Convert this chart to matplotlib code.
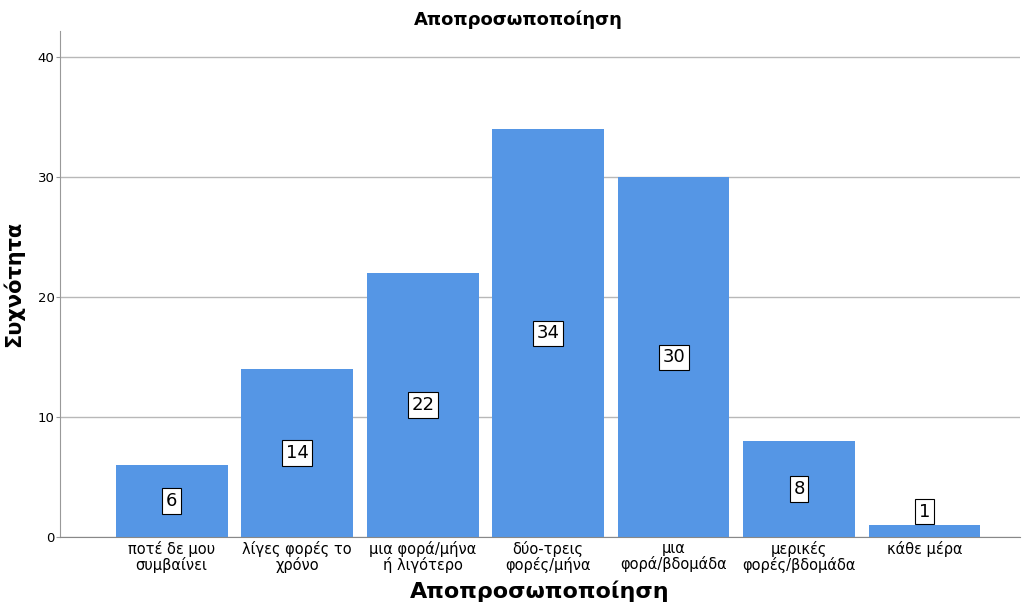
import matplotlib
matplotlib.use("Agg")
import matplotlib.pyplot as plt

categories = ["ποτέ δε μου\nσυμβαίνει", "λίγες φορές το\nχρόνο", "μια φορά/μήνα\nή λιγότερο",
              "δύο-τρεις\nφορές/μήνα", "μια\nφορά/βδομάδα", "μερικές\nφορές/βδομάδα", "κάθε μέρα"]
values = [6, 14, 22, 34, 30, 8, 1]
yticks = [0, 10, 20, 30, 40]

plt.rcParams['font.family'] = ['DejaVu Sans']
fig = plt.figure(figsize=(10.24, 6.06), dpi=100)
ax = fig.add_axes([60/1024, 69/606, 960/1024, 506/606])

x = list(range(len(values)))
ax.bar(x, values, width=0.89, color="#5596E5", zorder=2)
ax.set_xlim(-0.89, 6.76)
ax.set_ylim(0, 42.2)
ax.set_yticks(yticks)
ax.set_yticklabels([str(v) for v in yticks], fontsize=9.5)
ax.yaxis.grid(True, color="#b8b8b8", linewidth=1, zorder=0)
ax.set_xticks(x)
ax.set_xticklabels(categories, fontsize=10.5, linespacing=0.95)
ax.tick_params(axis='x', length=0, pad=3)
ax.tick_params(axis='y', length=3, color="#999999", pad=1)
for s in ["top", "right"]:
    ax.spines[s].set_visible(False)
ax.spines["left"].set_color("#999999")
ax.spines["bottom"].set_color("#888888")

for xi, v in zip(x, values):
    yy = v / 2 if v > 3 else v + 1.1
    ax.text(xi, yy, str(v), ha="center", va="center", fontsize=13,
            bbox=dict(boxstyle="square,pad=0.2", fc="white", ec="black", lw=0.8), zorder=3)

ax.set_ylabel("Συχνότητα", fontsize=15, fontweight="bold", labelpad=10)
ax.set_xlabel("Αποπροσωποποίηση", fontsize=16, fontweight="bold", labelpad=6)
fig.text(518/1024, 1 - 20/606, "Αποπροσωποποίηση", ha="center", va="center", fontsize=13, fontweight="bold")

fig.savefig("out.png", dpi=100)
